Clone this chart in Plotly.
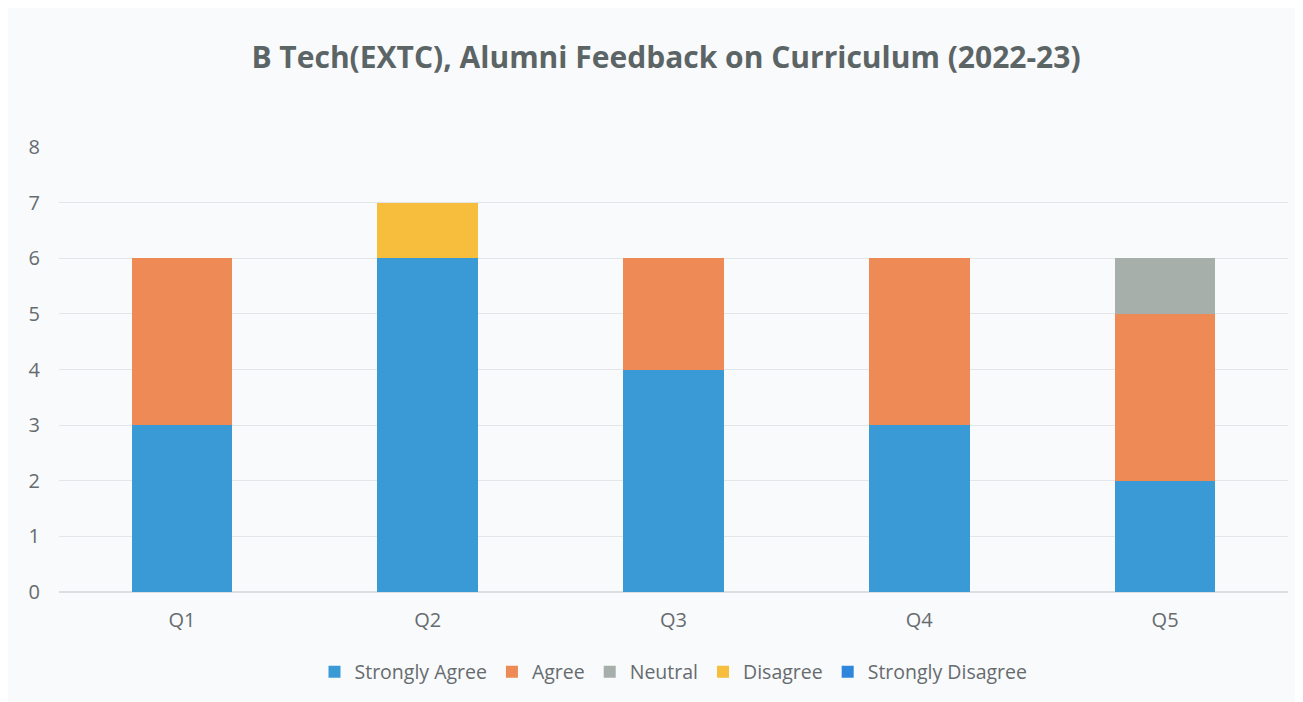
import plotly.graph_objects as go

categories = ["Q1", "Q2", "Q3", "Q4", "Q5"]
series_names = ["Strongly Agree", "Agree", "Neutral", "Disagree", "Strongly Disagree"]
strongly_agree = [3, 6, 4, 3, 2]
agree = [3, 0, 2, 3, 3]
neutral = [0, 0, 0, 0, 1]
disagree = [0, 1, 0, 0, 0]
strongly_disagree = [0, 0, 0, 0, 0]
y_ticks = [0, 1, 2, 3, 4, 5, 6, 7, 8]

values = [strongly_agree, agree, neutral, disagree, strongly_disagree]
colors = ["#3A9AD6", "#EE8A55", "#A7AFAB", "#F6BE3C", "#2F86DD"]

fig = go.Figure()
for name, vals, col in zip(series_names, values, colors):
    fig.add_trace(go.Bar(name=name, x=categories, y=vals, marker=dict(color=col, line=dict(width=0))))

font_family = "Open Sans, Liberation Sans, sans-serif"
fig.update_layout(
    barmode="stack",
    bargap=0.59,
    width=1303, height=702,
    paper_bgcolor="#f9fafc",
    plot_bgcolor="#f9fafc",
    margin=dict(l=51, r=23, t=139, b=118),
    title=dict(text="<b>B Tech(EXTC), Alumni Feedback on Curriculum (2022-23)</b>",
               x=0.505, xanchor="center", y=0.929, yanchor="middle",
               font=dict(family=font_family, size=30, color="#5c6566")),
    font=dict(family=font_family, color="#666b6e"),
    legend=dict(orientation="h", x=0.5, xanchor="center", y=-0.18, yanchor="middle",
                font=dict(size=19.5, color="#666b6e"), traceorder="normal",
                itemwidth=30, bgcolor="rgba(0,0,0,0)"),
    xaxis=dict(showgrid=False, showline=False, tickfont=dict(size=20, color="#666b6e"),
               ticklabelstandoff=14),
    yaxis=dict(range=[0, 8], tickvals=y_ticks, showgrid=True, gridcolor="#e3e5e8",
               gridwidth=1, zeroline=True, zerolinecolor="#dcdfe2", showline=False,
               tickfont=dict(size=20, color="#666b6e"), ticklabelstandoff=18),
)
fig.write_html("out.html")
